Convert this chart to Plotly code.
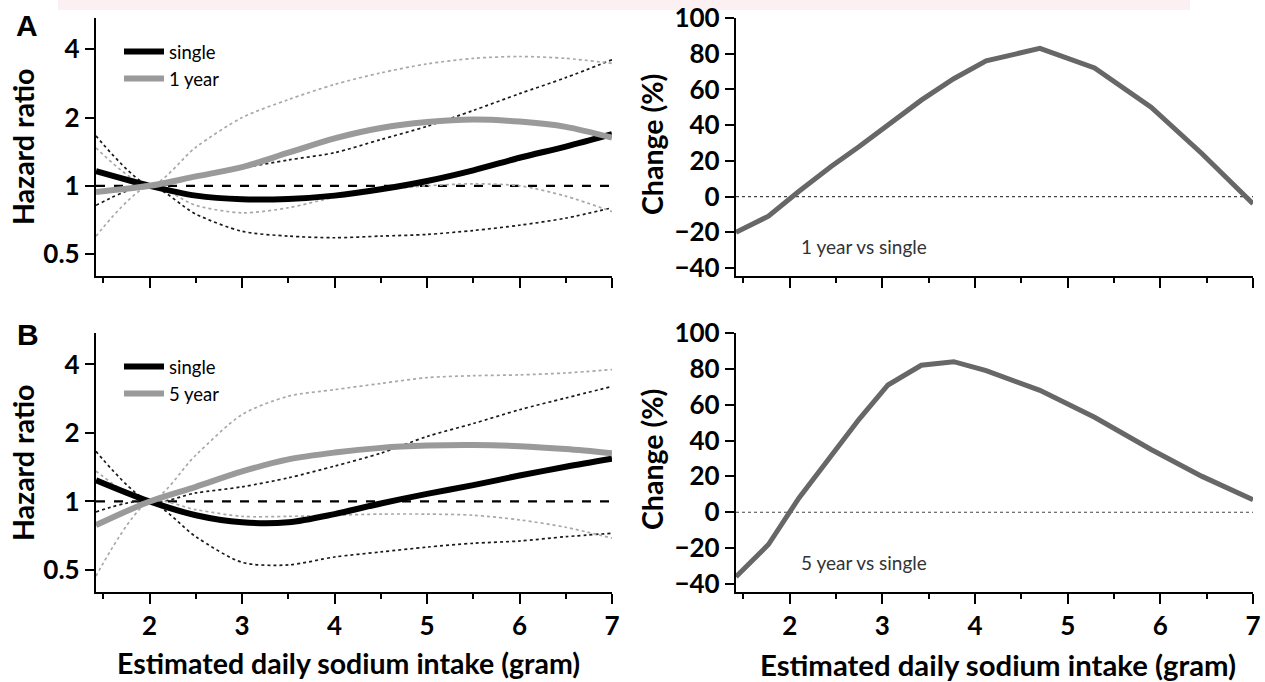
import plotly.graph_objects as go
import math

# ---------------- data ----------------
X_HR = [1.42, 2.0, 2.5, 3.0, 3.5, 4.0, 4.5, 5.0, 5.5, 6.0, 6.5, 7.0]

# Panel A (single vs 1 year)
A_SINGLE = [1.16, 1.0, 0.905, 0.872, 0.875, 0.905, 0.965, 1.05, 1.17, 1.33, 1.49, 1.69]
A_SINGLE_UP = [1.66, 1.0, 1.10, 1.20, 1.30, 1.40, 1.60, 1.83, 2.15, 2.55, 3.0, 3.6]
A_SINGLE_LO = [0.82, 1.0, 0.75, 0.63, 0.60, 0.59, 0.60, 0.61, 0.635, 0.67, 0.72, 0.80]
A_1YR = [0.94, 1.0, 1.10, 1.21, 1.40, 1.62, 1.80, 1.91, 1.96, 1.92, 1.82, 1.63]
A_1YR_UP = [1.47, 1.0, 1.48, 2.0, 2.4, 2.8, 3.15, 3.45, 3.65, 3.72, 3.65, 3.47]
A_1YR_LO = [0.60, 1.0, 0.82, 0.76, 0.80, 0.89, 0.96, 1.0, 1.02, 1.0, 0.90, 0.77]

# Panel B (single vs 5 year)
B_SINGLE = [1.24, 1.0, 0.87, 0.81, 0.81, 0.88, 0.98, 1.08, 1.18, 1.30, 1.42, 1.54]
B_SINGLE_UP = [1.66, 1.0, 1.09, 1.16, 1.27, 1.43, 1.63, 1.93, 2.2, 2.53, 2.85, 3.2]
B_SINGLE_LO = [0.90, 1.0, 0.70, 0.54, 0.526, 0.57, 0.60, 0.63, 0.655, 0.67, 0.70, 0.725]
B_5YR = [0.787, 1.0, 1.16, 1.355, 1.53, 1.64, 1.72, 1.76, 1.77, 1.75, 1.70, 1.63]
B_5YR_UP = [1.36, 1.0, 1.6, 2.41, 2.9, 3.1, 3.3, 3.5, 3.57, 3.6, 3.67, 3.8]
B_5YR_LO = [0.47, 1.0, 0.92, 0.86, 0.86, 0.87, 0.88, 0.88, 0.87, 0.83, 0.77, 0.69]

# Change (%) panels
X_CH = [1.42, 1.77, 2.1, 2.45, 2.75, 3.06, 3.42, 3.77, 4.12, 4.7, 5.29, 5.9, 6.45, 7.0]
CH_1YR = [-20, -11, 3, 17, 28, 40, 54, 66, 76, 83, 72, 50, 24, -4]
CH_5YR = [-36, -18, 8, 32, 52, 71, 82, 84, 79, 68, 53, 35, 20, 7]

REF_HR = 1.0
REF_CH = 0.0
HR_TICKS = [0.5, 1, 2, 4]
CH_TICKS = [-40, -20, 0, 20, 40, 60, 80, 100]
X_TICKS = [2, 3, 4, 5, 6, 7]

# ---------------- figure ----------------
W, H = 1265, 682
FONT = "Lato"

def px_x(p):
    return p / W

def px_y(p):
    return 1 - p / H

fig = go.Figure()

BLACK = "#000000"
GRAY = "#9a9a9a"
DOT_BLACK = "#1a1a1a"
DOT_GRAY = "#a8a8a8"
CH_COLOR = "#676767"


def hr_panel(xa, ya, single, s_up, s_lo, other, o_up, o_lo, other_name, legend):
    xs = [X_HR[0], X_HR[-1]]
    fig.add_trace(go.Scatter(x=xs, y=[REF_HR] * 2, xaxis=xa, yaxis=ya, mode="lines",
                             line=dict(color=BLACK, width=2.2, dash="dash"), showlegend=False))
    for ys, col in [(s_up, DOT_BLACK), (s_lo, DOT_BLACK), (o_up, DOT_GRAY), (o_lo, DOT_GRAY)]:
        fig.add_trace(go.Scatter(x=X_HR, y=ys, xaxis=xa, yaxis=ya, mode="lines",
                                 line=dict(color=col, width=1.7, dash="dot", shape="spline", smoothing=0.8),
                                 showlegend=False))
    fig.add_trace(go.Scatter(x=X_HR, y=single, xaxis=xa, yaxis=ya, mode="lines", name="single",
                             line=dict(color=BLACK, width=6, shape="spline", smoothing=0.9),
                             legend=legend, showlegend=True))
    fig.add_trace(go.Scatter(x=X_HR, y=other, xaxis=xa, yaxis=ya, mode="lines", name=other_name,
                             line=dict(color=GRAY, width=6, shape="spline", smoothing=0.9),
                             legend=legend, showlegend=True))


def ch_panel(xa, ya, vals):
    fig.add_trace(go.Scatter(x=[X_CH[0], X_CH[-1]], y=[REF_CH] * 2, xaxis=xa, yaxis=ya, mode="lines",
                             line=dict(color="#444444", width=1.2, dash="dot"), showlegend=False))
    fig.add_trace(go.Scatter(x=X_CH, y=vals, xaxis=xa, yaxis=ya, mode="lines",
                             line=dict(color=CH_COLOR, width=5), showlegend=False))


hr_panel("x", "y", A_SINGLE, A_SINGLE_UP, A_SINGLE_LO, A_1YR, A_1YR_UP, A_1YR_LO, "1 year", "legend")
ch_panel("x2", "y2", CH_1YR)
hr_panel("x3", "y3", B_SINGLE, B_SINGLE_UP, B_SINGLE_LO, B_5YR, B_5YR_UP, B_5YR_LO, "5 year", "legend2")
ch_panel("x4", "y4", CH_5YR)

LEFT_DOM = [px_x(96), px_x(612)]
RIGHT_DOM = [px_x(736), px_x(1253)]
TOP_DOM = [px_y(276), px_y(18)]
BOT_DOM = [px_y(592), px_y(333)]

tickfont = dict(family=FONT, size=26, color="black", weight="bold")


def xaxis(domain, anchor, labels):
    return dict(domain=domain, anchor=anchor, range=[1.42, 7.0], showline=True, linecolor="black",
                linewidth=2.2, ticks="outside", ticklen=10, tickwidth=2, tickcolor="black",
                tickmode="array", tickvals=X_TICKS, showticklabels=labels, tickfont=tickfont,
                minor=dict(ticks="outside", ticklen=5, tickwidth=2, tickcolor="black",
                           tickmode="linear", tick0=1.5, dtick=0.5, showgrid=False),
                showgrid=False, zeroline=False, fixedrange=True, automargin=False)


def hr_yaxis(domain, anchor):
    return dict(domain=domain, anchor=anchor, type="log",
                range=[math.log10(0.40), math.log10(5.5)], showline=True, linecolor="black",
                linewidth=2.2, ticks="outside", ticklen=9, tickwidth=2, tickcolor="black",
                tickmode="array", tickvals=HR_TICKS, ticktext=[str(v) for v in HR_TICKS],
                tickfont=tickfont, showgrid=False, zeroline=False, fixedrange=True,
                automargin=False)


def ch_yaxis(domain, anchor):
    return dict(domain=domain, anchor=anchor, range=[-44.5, 100], showline=True, linecolor="black",
                linewidth=2.2, ticks="outside", ticklen=9, tickwidth=2, tickcolor="black",
                tickmode="array", tickvals=CH_TICKS, tickfont=tickfont, showgrid=False,
                zeroline=False, fixedrange=True, automargin=False)


legend_common = dict(font=dict(family=FONT, size=18.5, color="black"), bgcolor="rgba(0,0,0,0)",
                     xanchor="left", yanchor="top", itemwidth=40, tracegroupgap=0)

fig.update_layout(
    width=W, height=H, margin=dict(l=0, r=0, t=0, b=0, autoexpand=False),
    paper_bgcolor="white", plot_bgcolor="white",
    xaxis=xaxis(LEFT_DOM, "y", False),
    yaxis=hr_yaxis(TOP_DOM, "x"),
    xaxis2=xaxis(RIGHT_DOM, "y2", False),
    yaxis2=ch_yaxis(TOP_DOM, "x2"),
    xaxis3=xaxis(LEFT_DOM, "y3", True),
    yaxis3=hr_yaxis(BOT_DOM, "x3"),
    xaxis4=xaxis(RIGHT_DOM, "y4", True),
    yaxis4=ch_yaxis(BOT_DOM, "x4"),
    legend=dict(x=px_x(119), y=px_y(33), **legend_common),
    legend2=dict(x=px_x(119), y=px_y(348), **legend_common),
    showlegend=True,
)

# faint pink band at top of the source image
fig.add_shape(type="rect", xref="paper", yref="paper", x0=px_x(58), x1=px_x(1190),
              y0=px_y(10), y1=1, fillcolor="#fdf0f3", line_width=0, layer="below")

ann = []
letter_font = dict(family="Liberation Sans", size=30, color="black")
ann.append(dict(text="<b>A</b>", x=px_x(27), y=px_y(26), font=letter_font))
ann.append(dict(text="<b>B</b>", x=px_x(28), y=px_y(334), font=letter_font))
title_font = dict(family=FONT, size=28.5, color="black", weight="bold")
title_font_r = dict(family=FONT, size=29.3, color="black", weight="bold")
ann.append(dict(text="Hazard ratio", x=px_x(23), y=px_y(147), textangle=-90, font=title_font))
ann.append(dict(text="Hazard ratio", x=px_x(23), y=px_y(463), textangle=-90, font=title_font))
ann.append(dict(text="Change (%)", x=px_x(652), y=px_y(145), textangle=-90, font=title_font))
ann.append(dict(text="Change (%)", x=px_x(652), y=px_y(460), textangle=-90, font=title_font))
ann.append(dict(text="Estimated daily sodium intake (gram)", x=px_x(348), y=px_y(663), font=title_font))
ann.append(dict(text="Estimated daily sodium intake (gram)", x=px_x(998), y=px_y(664), font=title_font_r))
for a in ann:
    a.update(xref="paper", yref="paper", showarrow=False, xanchor="center", yanchor="middle")
    fig.add_annotation(**a)

note_font = dict(family=FONT, size=19, color="#333333")
fig.add_annotation(text="1 year vs single", x=2.1, y=-28, xref="x2", yref="y2", showarrow=False,
                   xanchor="left", yanchor="middle", font=note_font)
fig.add_annotation(text="5 year vs single", x=2.1, y=-28, xref="x4", yref="y4", showarrow=False,
                   xanchor="left", yanchor="middle", font=note_font)

PIN = ("document.body.style.margin='0';document.body.style.overflow='hidden';"
       "var gd=document.getElementById('{plot_id}');gd.style.position='fixed';"
       "gd.style.left='0px';gd.style.top='0px';")
fig.write_html("out.html", config={"displayModeBar": False}, post_script=PIN)
